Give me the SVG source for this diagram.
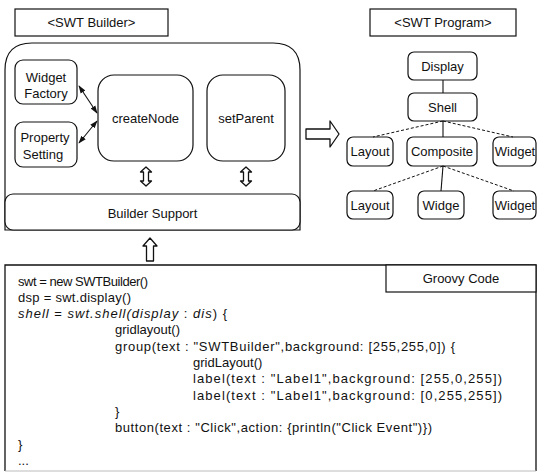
<svg xmlns="http://www.w3.org/2000/svg" width="537" height="473" viewBox="0 0 537 473">
  <style>
    text { font-family: "Liberation Sans", Arial, sans-serif; font-size: 13px; fill: #111; }
    .c { text-anchor: middle; }
    .box { fill: #fff; stroke: #111; stroke-width: 1.2; }
    .hollow { fill: #fff; stroke: #111; stroke-width: 1.3; stroke-linejoin: round; }
    .solid { stroke: #111; stroke-width: 1.1; fill: none; }
    .dash { stroke: #111; stroke-width: 1; fill: none; stroke-dasharray: 3 2; }
    .it { font-style: italic; }
  </style>
  <defs>
    <marker id="head" viewBox="0 0 10 10" refX="9" refY="5" markerUnits="userSpaceOnUse" markerWidth="8" markerHeight="8" orient="auto-start-reverse">
      <path d="M0,1.5 L10,5 L0,8.5 Z" fill="#111"/>
    </marker>
  </defs>

  <rect width="537" height="473" fill="#fff"/>

  <!-- SWT Builder side -->
  <g id="builder-title">
    <rect class="box" x="15" y="9" width="153" height="27"/>
    <text class="c" x="91.5" y="27">&lt;SWT Builder&gt;</text>
  </g>
  <g id="builder">
    <path class="box" d="M5,230 V70 Q5,43 32,43 H273 Q300,43 300,70 V230 Z"/>
  </g>
  <g id="widget-factory">
    <rect class="box" x="15" y="60" width="62" height="44" rx="8"/>
    <text class="c" x="46" y="82">Widget</text>
    <text class="c" x="46" y="98">Factory</text>
  </g>
  <g id="property-setting">
    <rect class="box" x="15" y="122" width="62" height="45" rx="8"/>
    <text class="c" x="45" y="142">Property</text>
    <text class="c" x="43" y="159">Setting</text>
  </g>
  <g id="create-node">
    <rect class="box" x="98" y="75" width="95" height="86" rx="16"/>
    <text class="c" x="145.5" y="123">createNode</text>
  </g>
  <g id="set-parent">
    <rect class="box" x="207" y="75" width="78" height="86" rx="16"/>
    <text class="c" x="246" y="123">setParent</text>
  </g>
  <g id="builder-support">
    <rect class="box" x="5" y="194" width="295" height="36" rx="8"/>
    <text class="c" x="152.5" y="218">Builder Support</text>
  </g>

  <!-- SWT Program side -->
  <g id="program-title">
    <rect class="box" x="370" y="9" width="146" height="27"/>
    <text class="c" x="443" y="27">&lt;SWT Program&gt;</text>
  </g>
  <g id="display">
    <rect class="box" x="408" y="52" width="69" height="28" rx="6"/>
    <text class="c" x="442.5" y="71">Display</text>
  </g>
  <g id="shell">
    <rect class="box" x="408" y="93" width="69" height="28" rx="6"/>
    <text class="c" x="442.5" y="112">Shell</text>
  </g>
  <g id="layout-1">
    <rect class="box" x="347" y="137" width="46" height="29" rx="6"/>
    <text class="c" x="370" y="156">Layout</text>
  </g>
  <g id="composite">
    <rect class="box" x="407" y="137" width="70" height="29" rx="6"/>
    <text class="c" x="442" y="156">Composite</text>
  </g>
  <g id="widget-1">
    <rect class="box" x="493" y="137" width="43" height="29" rx="6"/>
    <text class="c" x="515" y="156">Widget</text>
  </g>
  <g id="layout-2">
    <rect class="box" x="347" y="191" width="46" height="28" rx="6"/>
    <text class="c" x="370" y="210">Layout</text>
  </g>
  <g id="widge">
    <rect class="box" x="418" y="191" width="46" height="28" rx="6"/>
    <text class="c" x="441" y="210">Widge</text>
  </g>
  <g id="widget-2">
    <rect class="box" x="493" y="191" width="43" height="28" rx="6"/>
    <text class="c" x="515" y="210">Widget</text>
  </g>

  <!-- Groovy code -->
  <g id="code">
    <path d="M5,471 V265 H536 V471" fill="none" stroke="#111" stroke-width="1.3"/>
    <line x1="5" y1="471" x2="536" y2="471" stroke="#bbb" stroke-width="1"/>
    <rect class="box" x="386" y="265" width="150" height="27"/>
    <text class="c" x="461" y="283">Groovy Code</text>
    <text x="18" y="285.5" textLength="130" lengthAdjust="spacing">swt = new SWTBuilder()</text>
    <text x="18" y="301.8" textLength="113" lengthAdjust="spacing">dsp = swt.display()</text>
    <text x="18" y="318.1" textLength="209" lengthAdjust="spacing"><tspan class="it">shell</tspan> = <tspan class="it">swt.shell(display</tspan> : <tspan class="it">dis</tspan>) {</text>
    <text x="115" y="334.4">gridlayout()</text>
    <text x="115" y="350.7" textLength="340" lengthAdjust="spacing">group(text : "SWTBuilder",background: [255,255,0]) {</text>
    <text x="193" y="367">gridLayout()</text>
    <text x="193" y="383.3" textLength="309" lengthAdjust="spacing">label(text : "Label1",background: [255,0,255])</text>
    <text x="193" y="399.6" textLength="309" lengthAdjust="spacing">label(text : "Label1",background: [0,255,255])</text>
    <text x="115" y="415.9">}</text>
    <text x="115" y="432.2" textLength="317" lengthAdjust="spacing">button(text : "Click",action: {println("Click Event")})</text>
    <text x="18" y="448.5">}</text>
    <text x="18" y="464.8">...</text>
  </g>

  <!-- connectors -->
  <g id="connectors">
    <line class="solid" x1="97" y1="113" x2="79" y2="86" marker-start="url(#head)" marker-end="url(#head)"/>
    <line class="solid" x1="97" y1="121" x2="79" y2="143" marker-start="url(#head)" marker-end="url(#head)"/>
    <path class="hollow" d="M146,167 L151.5,172 L148.5,172 L148.5,181 L151.5,181 L146,186 L140.5,181 L143.5,181 L143.5,172 L140.5,172 Z"/>
    <path class="hollow" d="M246,167 L251.5,172 L248.5,172 L248.5,181 L251.5,181 L246,186 L240.5,181 L243.5,181 L243.5,172 L240.5,172 Z"/>
    <path class="hollow" d="M150,238 L157,246 L153.5,246 L153.5,261 L146.5,261 L146.5,246 L143,246 Z"/>
    <path class="hollow" d="M306,129 H330 V121 L339,134 L330,147 V139 H306 Z"/>
    <line class="solid" x1="443" y1="80" x2="443" y2="93"/>
    <line class="solid" x1="443" y1="121" x2="443" y2="137"/>
    <line class="dash" x1="443" y1="121" x2="373" y2="137"/>
    <line class="dash" x1="443" y1="121" x2="513" y2="137"/>
    <line class="solid" x1="443" y1="166" x2="441" y2="191"/>
    <line class="dash" x1="443" y1="166" x2="373" y2="191"/>
    <line class="dash" x1="443" y1="166" x2="514" y2="191"/>
  </g>
</svg>
